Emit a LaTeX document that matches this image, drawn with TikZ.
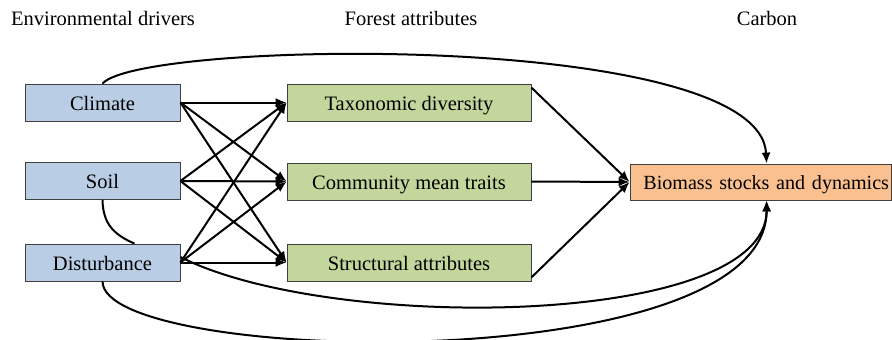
\documentclass[tikz,border=0pt]{standalone}
\usepackage{fontspec}
\setmainfont{Liberation Serif}
\usetikzlibrary{arrows.meta}
\definecolor{envblue}{RGB}{185,205,229}
\definecolor{forgreen}{RGB}{195,214,155}
\definecolor{carborange}{RGB}{250,192,144}
\definecolor{boxline}{RGB}{64,64,64}
\begin{document}
\begin{tikzpicture}[x=1pt,y=-1pt,
  font=\fontsize{20.5}{24}\selectfont,
  basebox/.style={draw=boxline,line width=0.8pt,minimum height=37pt,inner sep=1pt,text height=17pt,text depth=2pt,anchor=center},
  envbox/.style={basebox,fill=envblue,minimum width=155pt},
  forbox/.style={basebox,fill=forgreen,minimum width=244pt},
  carbbox/.style={basebox,fill=carborange,minimum width=261pt,minimum height=36pt,text width=257pt,align=right,font=\fontsize{20.1}{24}\selectfont},
  header/.style={inner sep=0pt,anchor=base},
  link/.style={line width=2pt,-{Latex[length=11pt,width=9pt]}},
  plainlink/.style={line width=2pt}]
\useasboundingbox (0,0) rectangle (892,340);
% headers
\node[header] (h1) at (103,25) {Environmental drivers};
\node[header] (h2) at (411,25) {Forest attributes};
\node[header] (h3) at (767,25) {Carbon};
% boxes
\node[envbox] (climate) at (102.5,102.5) {Climate};
\node[envbox] (soil) at (102.5,181) {Soil};
\node[envbox] (dist) at (102.5,262.5) {Disturbance};
\node[forbox] (tax) at (409,102.5) {Taxonomic diversity};
\node[forbox] (cmt) at (409,181.5) {Community mean traits};
\node[forbox] (struct) at (409,262.5) {Structural attributes};
\node[carbbox] (bio) at (760.5,182) {Biomass stocks and dynamics};
\coordinate (biotop) at ([xshift=137pt]bio.north west);
\coordinate (biobot) at ([xshift=137pt]bio.south west);
% drivers to attributes
\foreach \s in {climate,soil,dist}{
  \foreach \t in {tax,cmt,struct}{
    \draw[link] (\s.east) -- (\t.west);
  }
}
% attributes to biomass
\draw[link] ([yshift=-4pt]tax.north east) -- (bio.west);
\draw[link] (cmt.east) -- (bio.west);
\draw[link] ([yshift=4pt]struct.south east) -- (bio.west);
% climate to biomass
\draw[link] (climate.north) .. controls (140,40) and (760,30) .. (biotop);
% soil -- disturbance
\draw[plainlink] (soil.south) .. controls (103,225) and (115,235) .. ([xshift=32pt]dist.north);
% disturbance to biomass
\draw[link] ([yshift=5.5pt]dist.east) .. controls (330,333) and (767,328) .. (biobot);
\draw[link] (dist.south) .. controls (103,365) and (767,380) .. (biobot);
\end{tikzpicture}
\end{document}
